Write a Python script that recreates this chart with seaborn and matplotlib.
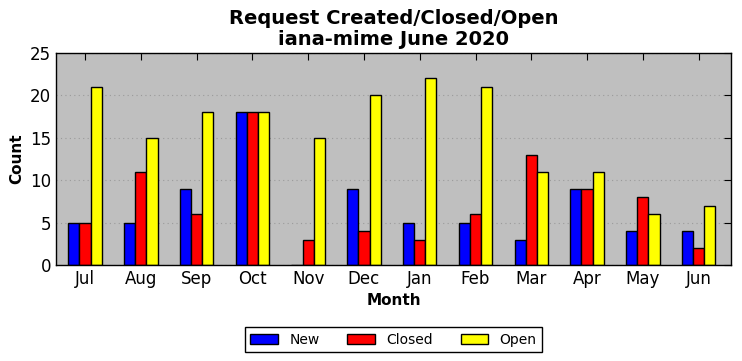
import pandas as pd
import seaborn as sns
import matplotlib
matplotlib.use('Agg')
import matplotlib.pyplot as plt

# 数据
months = ['Jul', 'Aug', 'Sep', 'Oct', 'Nov', 'Dec', 'Jan', 'Feb', 'Mar', 'Apr', 'May', 'Jun']
new_counts = [5, 5, 9, 18, 0, 9, 5, 5, 3, 9, 4, 4]
closed_counts = [5, 11, 6, 18, 3, 4, 3, 6, 13, 9, 8, 2]
open_counts = [21, 15, 18, 18, 15, 20, 22, 21, 11, 11, 6, 7]

df = pd.DataFrame({'Month': months, 'New': new_counts, 'Closed': closed_counts, 'Open': open_counts})
df_long = df.melt(id_vars='Month', var_name='Type', value_name='Count')

sns.set_style('white')
plt.rcParams['font.family'] = ['DejaVu Sans']
plt.rcParams['text.color'] = 'black'
plt.rcParams['axes.labelcolor'] = 'black'
plt.rcParams['xtick.color'] = 'black'
plt.rcParams['ytick.color'] = 'black'

fig = plt.figure(figsize=(7.42, 3.61), dpi=100)
ax = fig.add_axes([56 / 742, 1 - 265 / 361, (731 - 56) / 742, (265 - 53) / 361])
ax.set_facecolor('#bfbfbf')

sns.barplot(data=df_long, x='Month', y='Count', hue='Type', order=months,
            hue_order=['New', 'Closed', 'Open'], palette=['#0000ff', '#ff0000', '#ffff00'],
            width=0.6, edgecolor='black', linewidth=1, saturation=1, ax=ax)

ax.set_ylim(0, 25)
ax.set_xlim(-0.52, 11.58)
ax.set_yticks([0, 5, 10, 15, 20, 25])
ax.yaxis.grid(True, linestyle=(0, (1, 3)), color='#9a9a9a', linewidth=0.8)
ax.set_axisbelow(True)
ax.tick_params(direction='in', top=True, right=True, labelsize=12, length=5)
for s in ax.spines.values():
    s.set_color('black')
    s.set_linewidth(1)

ax.set_title('Request Created/Closed/Open\niana-mime June 2020', fontsize=14, fontweight='bold',
             linespacing=1.1, color='black')
ax.set_xlabel('Month', fontsize=11, fontweight='bold')
ax.set_ylabel('Count', fontsize=11, fontweight='bold')

ax.legend(loc='upper center', bbox_to_anchor=(0.5, -0.26), ncol=3, fancybox=False,
          edgecolor='black', fontsize=10, columnspacing=2.0, handlelength=2.0,
          framealpha=1, borderpad=0.4)

fig.savefig('out.png', dpi=100)
